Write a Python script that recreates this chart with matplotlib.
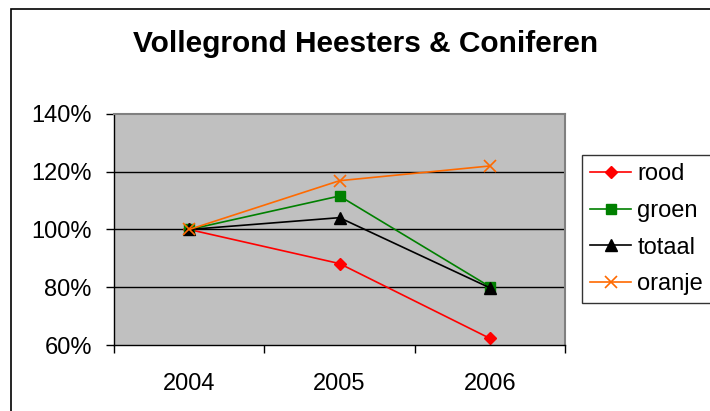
import matplotlib
matplotlib.use("Agg")
import matplotlib.pyplot as plt
from matplotlib.patches import Rectangle
from matplotlib.ticker import FuncFormatter

plt.rcParams['font.family'] = ['Liberation Sans', 'DejaVu Sans']

years = ['2004', '2005', '2006']
rood = [100.0, 88.2, 62.3]
groen = [100.0, 111.6, 80.2]
totaal = [100.0, 104.1, 79.8]
oranje = [100.0, 116.9, 122.0]
yticks = [60, 80, 100, 120, 140]

W, H = 710, 411
fig = plt.figure(figsize=(W / 100, H / 100), dpi=100)
ax = fig.add_axes([114 / W, 1 - 345 / H, (565 - 114) / W, (345 - 114) / H])
ax.set_facecolor('#C0C0C0')

x = list(range(len(years)))
ax.plot(x, rood, color='#FF0000', marker='D', markersize=6, lw=1.2, label='rood')
ax.plot(x, groen, color='#008000', marker='s', markersize=7, lw=1.2, label='groen')
ax.plot(x, totaal, color='#000000', marker='^', markersize=8, lw=1.2, label='totaal')
ax.plot(x, oranje, color='#FF6A00', marker='x', markersize=8, mew=1.2, lw=1.2, label='oranje')

ax.set_xlim(-0.5, 2.5)
ax.set_ylim(60, 140)
ax.set_yticks(yticks)
ax.yaxis.set_major_formatter(FuncFormatter(lambda v, p: f"{int(v)}%"))
ax.set_xticks([-0.5, 0.5, 1.5, 2.5])
ax.set_xticklabels([])
ax.set_xticks(x, minor=True)
ax.set_xticklabels(years, minor=True)
ax.tick_params(axis='x', which='minor', length=0, pad=20, labelsize=17)
ax.tick_params(axis='x', which='major', length=6, width=1, color='black', direction='out')
ax.tick_params(axis='y', length=6, width=1, direction='out', labelsize=17, pad=10)
for v in yticks[1:-1]:
    ax.axhline(v, color='black', lw=1.0, zorder=1)
for s in ['left', 'bottom']:
    ax.spines[s].set_color('black')
    ax.spines[s].set_linewidth(1.0)
for s in ['top', 'right']:
    ax.spines[s].set_color('#808080')
    ax.spines[s].set_linewidth(1.5)

fig.text(366 / W, 1 - 52 / H, 'Vollegrond Heesters & Coniferen', ha='center', va='baseline',
         fontsize=21.5, fontweight='bold')

leg = fig.legend(loc='upper left', bbox_to_anchor=(582 / W, 1 - 155 / H), frameon=True,
                 fontsize=17, handlelength=1.74, handletextpad=0.25, labelspacing=0.62,
                 borderpad=0.35, borderaxespad=0, fancybox=False, edgecolor='black')
leg.get_frame().set_linewidth(1.0)

fig.patches.append(Rectangle((11 / W, -0.1), 1.2, 1.1 - 9 / H, transform=fig.transFigure,
                             fill=False, edgecolor='black', lw=1.2))

fig.savefig('out.png', dpi=100)
